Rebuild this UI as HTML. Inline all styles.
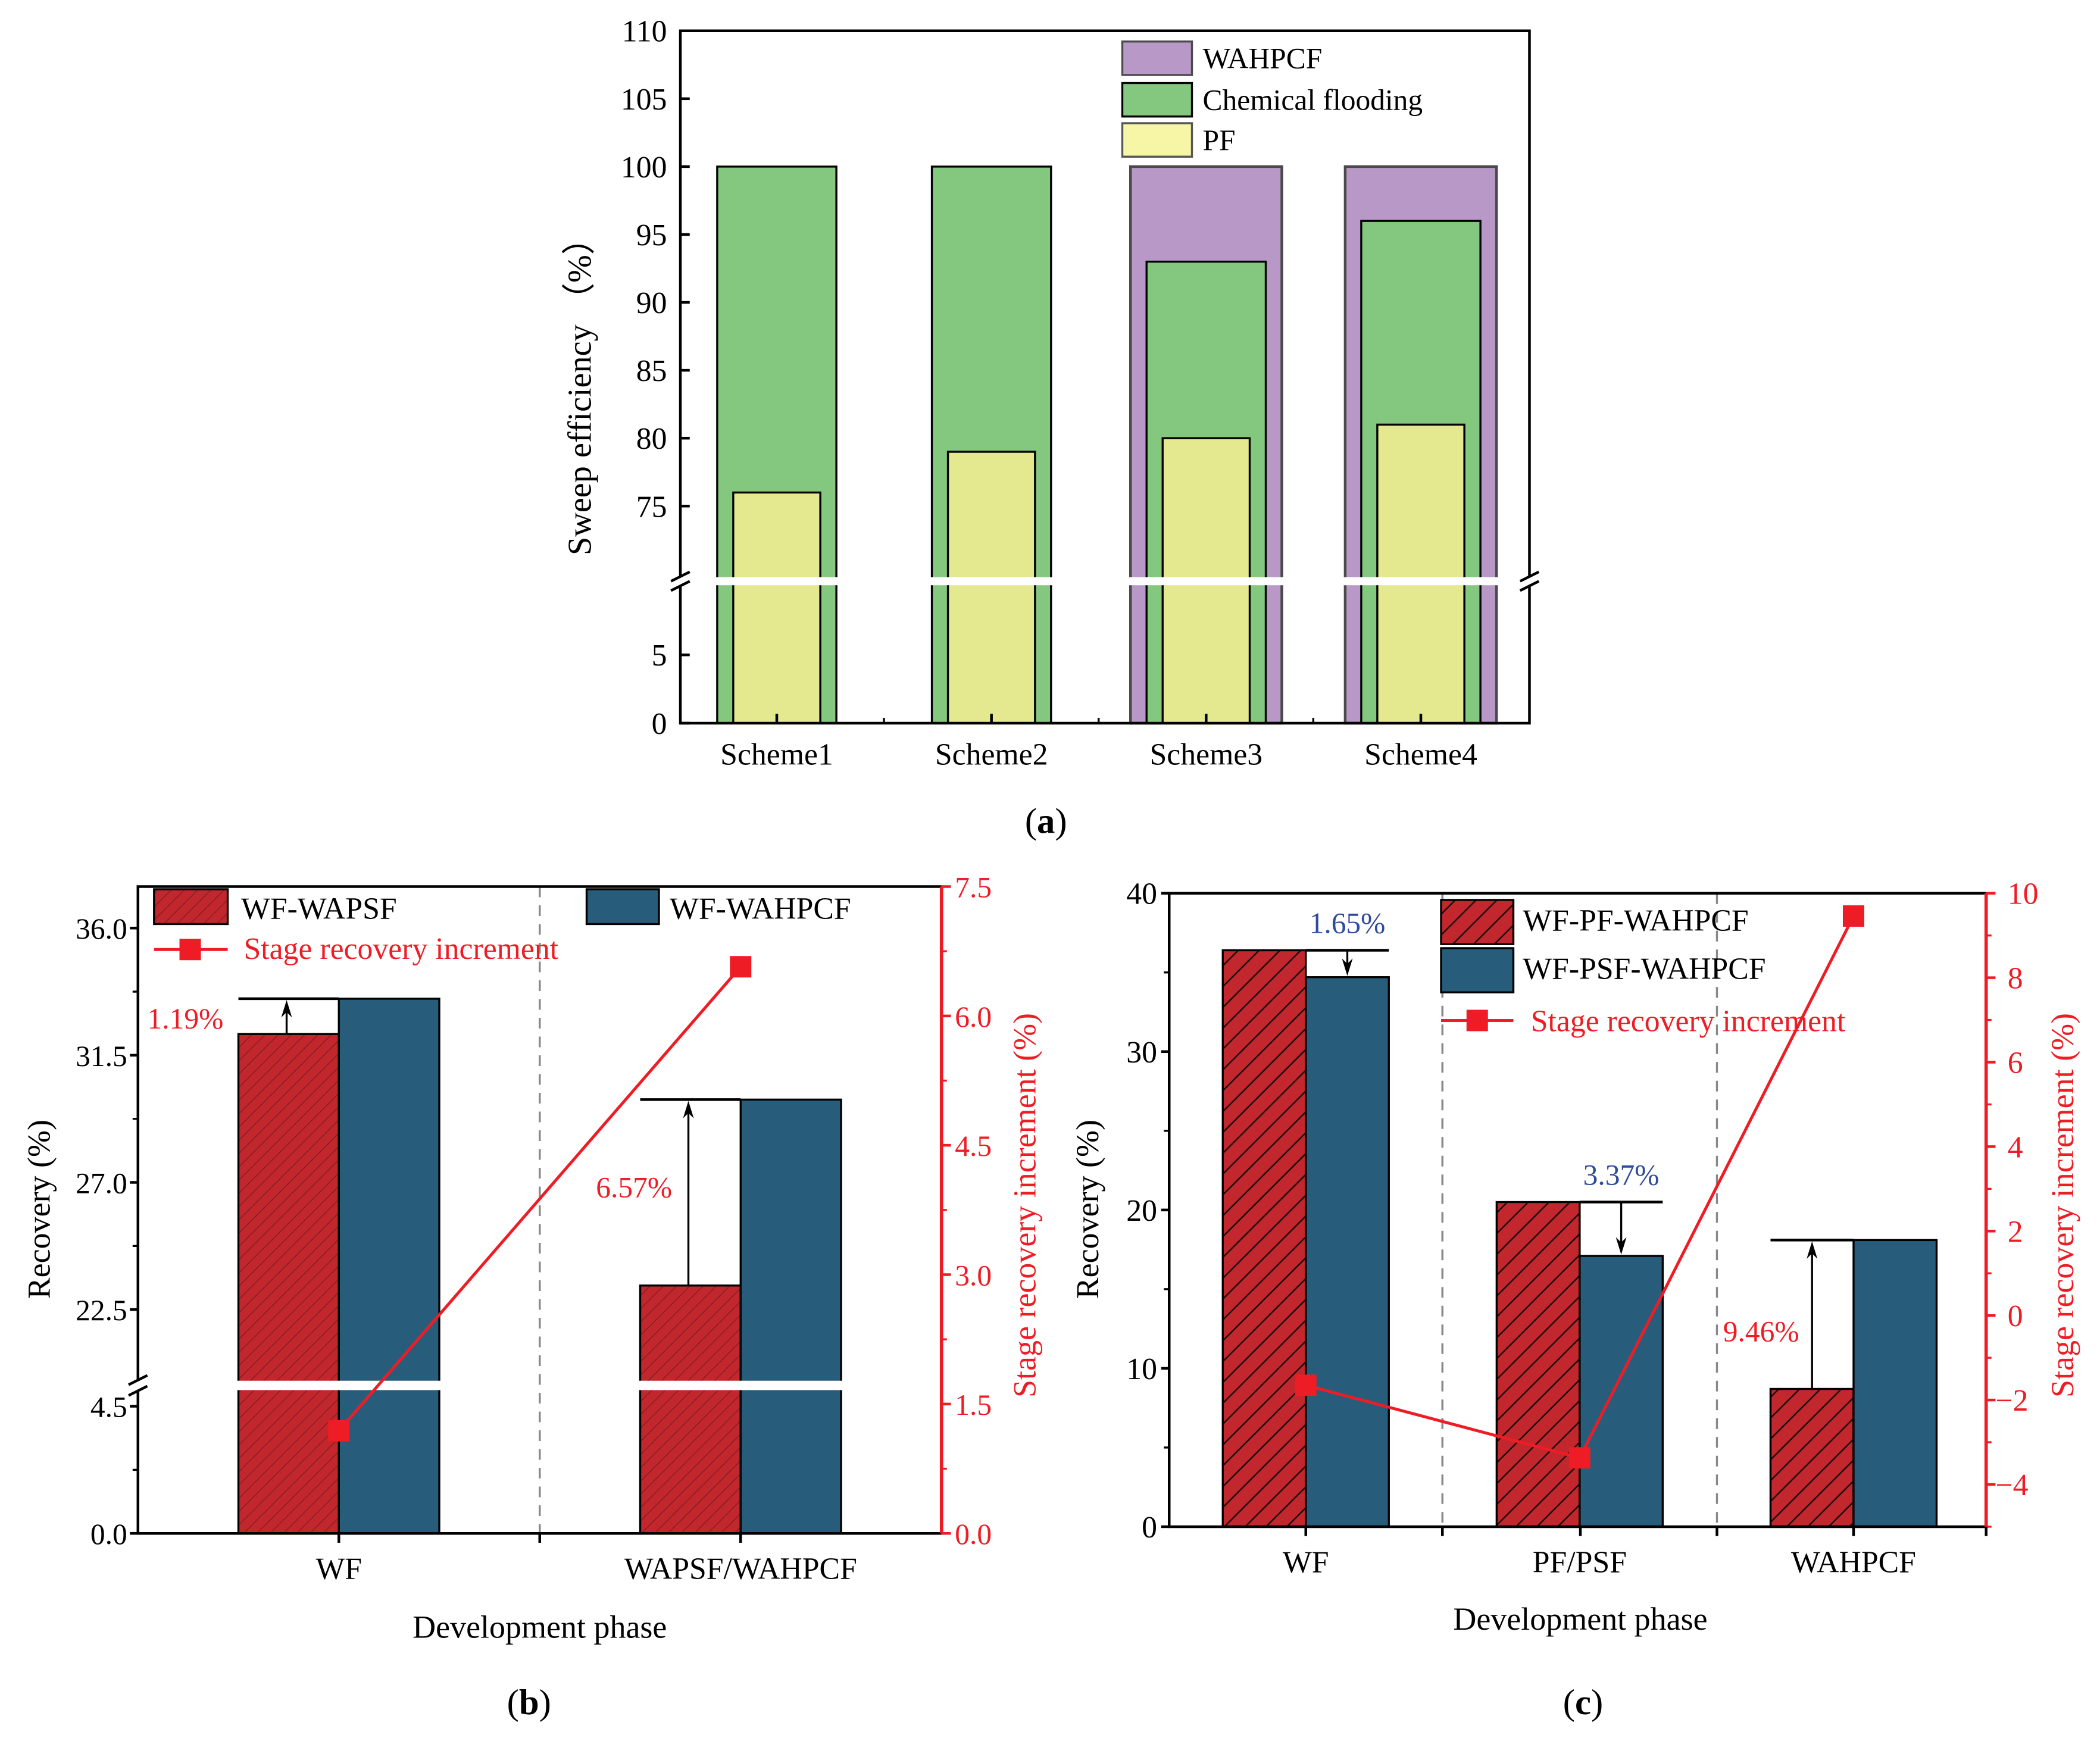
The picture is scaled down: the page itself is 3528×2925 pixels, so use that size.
<!DOCTYPE html>
<html><head><meta charset="utf-8"><style>
html,body{margin:0;padding:0;background:#fff;}
svg, svg text{font-family:"Liberation Serif","Times New Roman",serif;}
</style></head><body>
<svg id="fig" width="3528" height="2920" viewBox="0 0 1568 1297.8" xmlns="http://www.w3.org/2000/svg" font-family="Liberation Serif, serif">
<defs>
<pattern id="hatchB" patternUnits="userSpaceOnUse" width="7" height="7" patternTransform="rotate(45)">
<rect width="7" height="7" fill="#c1272d"/><line x1="0" y1="0" x2="0" y2="7" stroke="#6e1a1e" stroke-width="0.9"/></pattern>
<pattern id="hatchC" patternUnits="userSpaceOnUse" width="11" height="11" patternTransform="rotate(45)">
<rect width="11" height="11" fill="#c1272d"/><line x1="0" y1="0" x2="0" y2="11" stroke="#1a0a0a" stroke-width="2.2"/></pattern>
</defs>
<g id="ga"></g>
<g id="gb"></g>
<g id="gc"></g>
</svg>
<script>
// ---------- Chart (a) data ----------
const aCategories = ["Scheme1","Scheme2","Scheme3","Scheme4"];
const aPF = [76,79,80,81];
const aChem = [100,100,93,96];
const aWAHPCF = [0,0,100,100];
const aUpperTicks = [75,80,85,90,95,100,105,110];
const aLowerTicks = [0,5];
// ---------- Chart (b) data ----------
const bCategories = ["WF","WAPSF/WAHPCF"];
const bWAPSF = [32.25,23.35];
const bWAHPCF = [33.5,29.93];
const bIncrement = [1.19,6.57];
const bIncLabels = ["1.19%","6.57%"];
const bUpperTicks = [22.5,27.0,31.5,36.0];
const bLowerTicks = [0.0,4.5];
const bRightTicks = [0.0,1.5,3.0,4.5,6.0,7.5];
// ---------- Chart (c) data ----------
const cCategories = ["WF","PF/PSF","WAHPCF"];
const cPF = [36.4,20.5,8.7];
const cPSF = [34.7,17.1,18.1];
const cIncrement = [-1.65,-3.37,9.46];
const cIncLabels = ["1.65%","3.37%","9.46%"];
const cLeftTicks = [0,10,20,30,40];
const cRightTicks = [-4,-2,0,2,4,6,8,10];

const NS="http://www.w3.org/2000/svg";
const FF="Liberation Serif, serif";
function mk(parent,tag,attrs,text){const e=document.createElementNS(NS,tag);for(const k in attrs)e.setAttribute(k,attrs[k]);if(tag==='text')e.setAttribute('font-family',FF);if(text!==undefined)e.textContent=text;parent.appendChild(e);return e;}
function fmt1(v){return v.toFixed(1);}
function fmtSigned(v){return v<0?"\u2212"+Math.abs(v):String(v);}
// arrow: shaft from y1 to y2 with head at y2
function arrow(g,x,y1,y2){
  const d=y2<y1?1:-1; // 1 = pointing up
  const ln=mk(g,'line',{x1:x,x2:x,y1:y1,y2:y2+d*6,stroke:'#000','stroke-width':1.5});
  
  
  mk(g,'path',{d:`M${x} ${y2} L${x+4} ${y2+d*13} L${x} ${y2+d*9} L${x-4} ${y2+d*13} Z`,fill:'#000'});
}

// ================= (a) =================
(function(){
const g=document.getElementById('ga');
const L=508,R=1142,T=23,B=540;
const yUp=v=>T+(110-v)*10.14;
const yLo=v=>B-v*10.2;
const breakTop=431, breakBot=437;
const xc=i=>580+i*160.3;
function barRect(cx,w,v,fill,stroke,sw,name){
  if(v<=0)return;
  const top=v>=70?yUp(v):yLo(v);
  const r=mk(g,'rect',{x:cx-w/2,y:top,width:w,height:B-top,fill:fill,stroke:stroke,'stroke-width':sw});
  
  
}
aCategories.forEach((c,i)=>{
  barRect(xc(i),113,aWAHPCF[i],'#b898c6','#4a4a4a',2,'bar-wahpcf-'+(i+1));
  barRect(xc(i),89,aChem[i],'#84c77f','#000',1.5,'bar-chemical-flooding-'+(i+1));
  barRect(xc(i),65,aPF[i],'#e4e88f','#000',1.5,'bar-pf-'+(i+1));
});
const wb=mk(g,'rect',{x:L-2,y:breakTop,width:R-L+4,height:breakBot-breakTop,fill:'#fff'});


const fr=mk(g,'path',{d:`M${L} ${breakTop} V${T} H${R} V${breakTop} M${L} ${breakBot} V${B} H${R} V${breakBot}`,fill:'none',stroke:'#000','stroke-width':2});


mk(g,'path',{d:`M${L-7} ${breakTop+3} L${L+7} ${breakTop-4} M${L-7} ${breakBot+4} L${L+7} ${breakBot-3} M${R-7} ${breakTop+3} L${R+7} ${breakTop-4} M${R-7} ${breakBot+4} L${R+7} ${breakBot-3}`,stroke:'#000','stroke-width':2,fill:'none'});
aUpperTicks.forEach(v=>{const y=yUp(v);mk(g,'line',{x1:L,x2:L+7,y1:y,y2:y,stroke:'#000','stroke-width':2});
  const t=mk(g,'text',{x:L-10,y:y+8,'text-anchor':'end','font-size':23},String(v));});
aLowerTicks.forEach(v=>{const y=yLo(v);mk(g,'line',{x1:L,x2:L+7,y1:y,y2:y,stroke:'#000','stroke-width':2});
  const t=mk(g,'text',{x:L-10,y:y+8,'text-anchor':'end','font-size':23},String(v));});
aCategories.forEach((c,i)=>{const x=xc(i);mk(g,'line',{x1:x,x2:x,y1:B,y2:B-7,stroke:'#000','stroke-width':2});
  if(i<3){const xm=x+80;mk(g,'line',{x1:xm,x2:xm,y1:B,y2:B-4,stroke:'#000','stroke-width':1.5});}
  const t=mk(g,'text',{x:x,y:571,'text-anchor':'middle','font-size':23},c);});
const yl=mk(g,'text',{x:0,y:0,transform:'translate(441,290) rotate(-90)','text-anchor':'middle','font-size':25},'Sweep efficiency （%）');

const leg=[['#b898c6','#4a4a4a','WAHPCF',31],['#84c77f','#000','Chemical flooding',62],['#f7f5a6','#555','PF',92]];
leg.forEach(([f,s,lab,y])=>{const gg=mk(g,'g',{});
  mk(gg,'rect',{x:838,y:y,width:52,height:25,fill:f,stroke:s,'stroke-width':1.5});
  mk(gg,'text',{x:898,y:y+20,'font-size':22},lab);});
const cap=mk(g,'text',{x:781,y:622,'text-anchor':'middle','font-size':27});cap.innerHTML='(<tspan font-weight="bold">a</tspan>)';

})();

// ================= (b) =================
(function(){
const g=document.getElementById('gb');
const L=103,R=703,T=662,B=1145;
const s=21.1;
const yUp=v=>693+(36-v)*s;
const yLo=v=>B-v*s;
const brk=19.9;
const yL=v=>v>=brk?yUp(v):yLo(v);
const yR=v=>B-v*(B-T)/7.5;
const bT=1031,bB=1038;
const xc=i=>253+i*300;
const W=75;
bCategories.forEach((c,i)=>{
  let top=yL(bWAPSF[i]);
  const r1=mk(g,'rect',{x:xc(i)-W,y:top,width:W,height:B-top,fill:'url(#hatchB)',stroke:'#000','stroke-width':1.5});
  
  
  top=yL(bWAHPCF[i]);
  const r2=mk(g,'rect',{x:xc(i),y:top,width:W,height:B-top,fill:'#275d7b',stroke:'#000','stroke-width':1.5});
  
  
});
mk(g,'rect',{x:L+3,y:bT,width:R-L-6,height:bB-bT,fill:'#fff'});
mk(g,'line',{x1:403,x2:403,y1:T,y2:B,stroke:'#888','stroke-width':1.5,'stroke-dasharray':'8 6'});
bCategories.forEach((c,i)=>{
  const yb=yL(bWAHPCF[i]),yr=yL(bWAPSF[i]);const ax=xc(i)-W*0.52;
  mk(g,'line',{x1:xc(i)-W,x2:xc(i),y1:yb,y2:yb,stroke:'#000','stroke-width':2});
  arrow(g,ax,yr,yb+1);
});
let t=mk(g,'text',{x:110,y:768,'font-size':22,fill:'#ee1c25'},bIncLabels[0]);
t=mk(g,'text',{x:445,y:894,'font-size':22,fill:'#ee1c25'},bIncLabels[1]);
const pts=bIncrement.map((v,i)=>[xc(i),yR(v)]);
const pl=mk(g,'polyline',{points:pts.map(p=>p.join(',')).join(' '),fill:'none',stroke:'#ee1c25','stroke-width':2.2});

pts.forEach(p=>{const m=mk(g,'rect',{x:p[0]-8,y:p[1]-8,width:16,height:16,fill:'#ee1c25'});});
mk(g,'path',{d:`M${L} ${bT} V${T} H${R} M${L} ${bB} V${B} H${R}`,fill:'none',stroke:'#000','stroke-width':2});
mk(g,'line',{x1:R,x2:R,y1:T,y2:B,stroke:'#ee1c25','stroke-width':2.5});
mk(g,'path',{d:`M${L-7} ${bT+3} L${L+7} ${bT-4} M${L-7} ${bB+4} L${L+7} ${bB-3}`,stroke:'#000','stroke-width':2});
bUpperTicks.concat(bLowerTicks).forEach(v=>{const y=yL(v);mk(g,'line',{x1:L-6,x2:L,y1:y,y2:y,stroke:'#000','stroke-width':2});
  const tt=mk(g,'text',{x:L-8,y:y+8,'text-anchor':'end','font-size':22},fmt1(v));});
[24.75,29.25,33.75].forEach(v=>{const y=yUp(v);mk(g,'line',{x1:L-4,x2:L,y1:y,y2:y,stroke:'#000','stroke-width':1.5});});
[2.25].forEach(v=>{const y=yLo(v);mk(g,'line',{x1:L-4,x2:L,y1:y,y2:y,stroke:'#000','stroke-width':1.5});});
bRightTicks.forEach((v,k)=>{const y=yR(v);mk(g,'line',{x1:R,x2:R+7,y1:y,y2:y,stroke:'#ee1c25','stroke-width':2});
  if(k<bRightTicks.length-1){const ym=yR(v+0.75);mk(g,'line',{x1:R,x2:R+4,y1:ym,y2:ym,stroke:'#ee1c25','stroke-width':1.5});}
  const tt=mk(g,'text',{x:R+10,y:y+8,'font-size':22,fill:'#ee1c25'},fmt1(v));});
[253,403,553].forEach(x=>{mk(g,'line',{x1:x,x2:x,y1:B,y2:B+7,stroke:'#000','stroke-width':2});});
bCategories.forEach((c,i)=>{const tt=mk(g,'text',{x:xc(i),y:1179,'text-anchor':'middle','font-size':23},c);});
let a=mk(g,'text',{transform:'translate(37,903) rotate(-90)','text-anchor':'middle','font-size':24},'Recovery (%)');
a=mk(g,'text',{transform:'translate(773,900) rotate(-90)','text-anchor':'middle','font-size':24,fill:'#ee1c25'},'Stage recovery increment (%)');
a=mk(g,'text',{x:403,y:1223,'text-anchor':'middle','font-size':24},'Development phase');
let lg=mk(g,'g',{});
mk(lg,'rect',{x:115,y:664,width:55,height:26,fill:'url(#hatchB)',stroke:'#000','stroke-width':1.5});mk(lg,'text',{x:180,y:686,'font-size':23},'WF-WAPSF');
lg=mk(g,'g',{});
mk(lg,'rect',{x:438,y:664,width:54,height:26,fill:'#275d7b',stroke:'#000','stroke-width':1.5});mk(lg,'text',{x:500,y:686,'font-size':23},'WF-WAHPCF');
lg=mk(g,'g',{});
mk(lg,'line',{x1:115,x2:170,y1:709,y2:709,stroke:'#ee1c25','stroke-width':2.2});mk(lg,'rect',{x:134,y:701,width:16,height:16,fill:'#ee1c25'});
mk(lg,'text',{x:182,y:716,'font-size':23,fill:'#ee1c25'},'Stage recovery increment');
const cap=mk(g,'text',{x:395,y:1280,'text-anchor':'middle','font-size':27});cap.innerHTML='(<tspan font-weight="bold">b</tspan>)';

})();

// ================= (c) =================
(function(){
const g=document.getElementById('gc');
const L=873,R=1483,T=667,B=1140;
const yL=v=>B-v*(B-T)/40;
const yR=v=>T+(10-v)*(B-T)/15;
const xc=i=>975+i*204.5;
const W=62;
cCategories.forEach((c,i)=>{
  let top=yL(cPF[i]);
  const r1=mk(g,'rect',{x:xc(i)-W,y:top,width:W,height:B-top,fill:'url(#hatchC)',stroke:'#000','stroke-width':1.5});
  
  
  top=yL(cPSF[i]);
  const r2=mk(g,'rect',{x:xc(i),y:top,width:W,height:B-top,fill:'#275d7b',stroke:'#000','stroke-width':1.5});
  
  
});
[1077,1282].forEach(x=>mk(g,'line',{x1:x,x2:x,y1:T,y2:B,stroke:'#888','stroke-width':1.5,'stroke-dasharray':'8 6'}));
cCategories.forEach((c,i)=>{
  const yr=yL(cPF[i]),yb=yL(cPSF[i]);
  if(cPF[i]>cPSF[i]){
    const ax=xc(i)+W/2;
    mk(g,'line',{x1:xc(i),x2:xc(i)+W,y1:yr,y2:yr,stroke:'#000','stroke-width':2});
    arrow(g,ax,yr,yb-1);
    const t=mk(g,'text',{x:ax,y:yr-13,'text-anchor':'middle','font-size':22,fill:'#2f4b9c'},cIncLabels[i]);
  } else {
    const ax=xc(i)-W/2;
    mk(g,'line',{x1:xc(i)-W,x2:xc(i),y1:yb,y2:yb,stroke:'#000','stroke-width':2});
    arrow(g,ax,yr,yb+1);
    const t=mk(g,'text',{x:xc(i)-W-7,y:(yr+yb)/2+20,'text-anchor':'middle','font-size':22,fill:'#ee1c25'},cIncLabels[i]);
  }
});
const pts=cIncrement.map((v,i)=>[xc(i),yR(v)]);
const pl=mk(g,'polyline',{points:pts.map(p=>p.join(',')).join(' '),fill:'none',stroke:'#ee1c25','stroke-width':2.2});

pts.forEach(p=>{const m=mk(g,'rect',{x:p[0]-8,y:p[1]-8,width:16,height:16,fill:'#ee1c25'});});
mk(g,'path',{d:`M${R} ${T} H${L} V${B} H${R}`,fill:'none',stroke:'#000','stroke-width':2});
mk(g,'line',{x1:R,x2:R,y1:T,y2:B,stroke:'#ee1c25','stroke-width':2.5});
cLeftTicks.forEach((v,k)=>{const y=yL(v);mk(g,'line',{x1:L-6,x2:L,y1:y,y2:y,stroke:'#000','stroke-width':2});
  if(k<cLeftTicks.length-1){const ym=yL(v+5);mk(g,'line',{x1:L-4,x2:L,y1:ym,y2:ym,stroke:'#000','stroke-width':1.5});}
  const t=mk(g,'text',{x:L-9,y:y+8,'text-anchor':'end','font-size':23},String(v));});
cRightTicks.forEach(v=>{const y=yR(v);mk(g,'line',{x1:R,x2:R+7,y1:y,y2:y,stroke:'#ee1c25','stroke-width':2});
  const ym=yR(v-1);mk(g,'line',{x1:R,x2:R+4,y1:ym,y2:ym,stroke:'#ee1c25','stroke-width':1.5});
  const t=mk(g,'text',{x:R+(v<0?7:16),y:y+8,'font-size':23,fill:'#ee1c25'},fmtSigned(v));});
[975,1077,1180,1282,1384,1483].forEach(x=>mk(g,'line',{x1:x,x2:x,y1:B,y2:B+7,stroke:'#000','stroke-width':2}));
cCategories.forEach((c,i)=>{const t=mk(g,'text',{x:xc(i),y:1174,'text-anchor':'middle','font-size':23},c);});
let a=mk(g,'text',{transform:'translate(820,903) rotate(-90)','text-anchor':'middle','font-size':24},'Recovery (%)');
a=mk(g,'text',{transform:'translate(1548,900) rotate(-90)','text-anchor':'middle','font-size':24,fill:'#ee1c25'},'Stage recovery increment (%)');
a=mk(g,'text',{x:1180,y:1217,'text-anchor':'middle','font-size':24},'Development phase');
let lg=mk(g,'g',{});
mk(lg,'rect',{x:1076,y:672,width:54,height:33,fill:'url(#hatchC)',stroke:'#000','stroke-width':1.5});mk(lg,'text',{x:1137,y:695,'font-size':23},'WF-PF-WAHPCF');
lg=mk(g,'g',{});
mk(lg,'rect',{x:1076,y:708,width:54,height:33,fill:'#275d7b',stroke:'#000','stroke-width':1.5});mk(lg,'text',{x:1137,y:731,'font-size':23},'WF-PSF-WAHPCF');
lg=mk(g,'g',{});
mk(lg,'line',{x1:1076,x2:1130,y1:762,y2:762,stroke:'#ee1c25','stroke-width':2.2});mk(lg,'rect',{x:1095,y:754,width:16,height:16,fill:'#ee1c25'});
mk(lg,'text',{x:1143,y:770,'font-size':23,fill:'#ee1c25'},'Stage recovery increment');
const cap=mk(g,'text',{x:1182,y:1280,'text-anchor':'middle','font-size':27});cap.innerHTML='(<tspan font-weight="bold">c</tspan>)';

})();
</script>
</body></html>
